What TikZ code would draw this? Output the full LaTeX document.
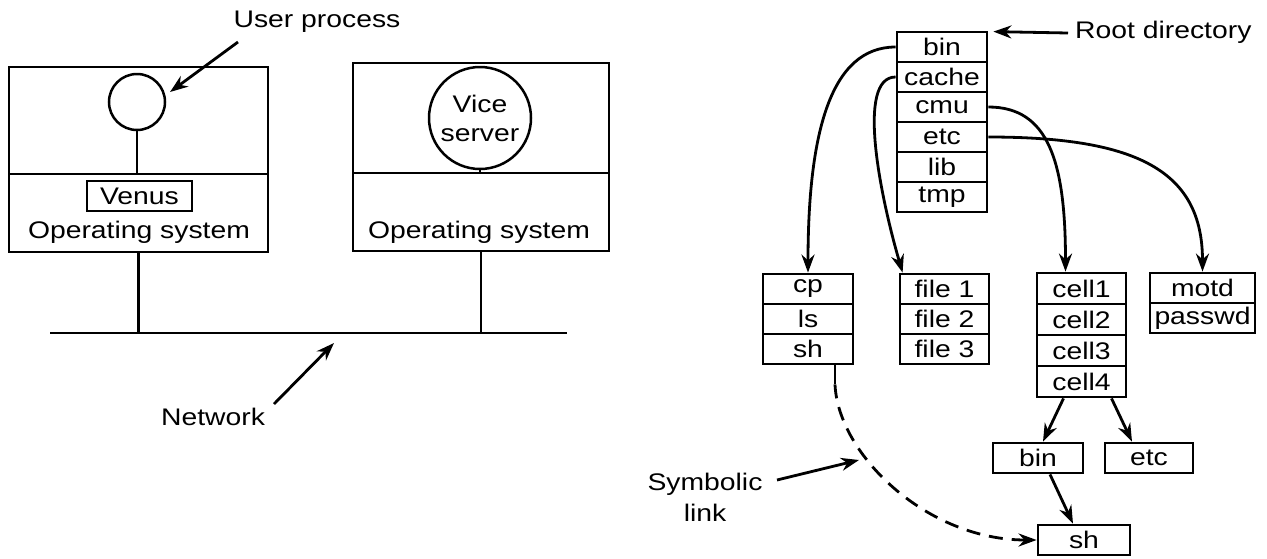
\documentclass[tikz,border=0pt]{standalone}
\usepackage{fontspec}
\setmainfont{Liberation Sans}[FakeStretch=1.18]
\usetikzlibrary{arrows.meta,calc}
\begin{document}
\begin{tikzpicture}[x=1pt,y=-1pt,
  every node/.style={font=\fontsize{24}{29}\selectfont},
  lw/.style={line width=2.8pt},
  box/.style={draw,line width=2.8pt,inner sep=0pt,minimum height=30pt},
  panel/.style={draw,line width=2.8pt,inner sep=0pt},
  proc/.style={draw,circle,line width=2.5pt,inner sep=0pt},
  arr/.style={line width=2.8pt,-{Stealth[length=18pt,width=13pt]}},
  dashline/.style={line width=2.8pt,dash pattern=on 14pt off 9pt,-{Stealth[length=18pt,width=13pt]}}]
\useasboundingbox (0,0) rectangle (1267,558);

% ---------- left: client machine ----------
\node[panel,minimum width=259pt,minimum height=107pt] (ltop) at (138.5,120.5) {};
\node[panel,minimum width=259pt,minimum height=78pt] (lbot) at (138.5,213) {};
\node[proc,minimum size=56pt] (ucirc) at (137,102) {};
\draw[lw] (ucirc.south) -- (ucirc.south |- ltop.south);
\node[box,minimum width=105pt,line width=2.5pt] (venus) at (139.5,196) {Venus};
\node (los) at (139,232) {Operating system};

% ---------- right: server machine ----------
\node[panel,minimum width=256pt,minimum height=110pt] (rtop) at (481,118) {};
\node[panel,minimum width=256pt,minimum height=78pt] (rbot) at (481,212) {};
\node[proc,minimum size=102pt,align=center] (vice) at (480,118) {Vice\\server};
\draw[lw] (vice.south) -- (vice.south |- rtop.south);
\node (ros) at (479,232) {Operating system};

% ---------- network ----------
\coordinate (netL) at (50,333);
\coordinate (netR) at (567,333);
\draw[lw] (netL) -- (netR);
\draw[lw] (lbot.south) -- (lbot.south |- netL);
\draw[lw] (rbot.south) -- (rbot.south |- netL);

% ---------- labels on the left ----------
\node (uplbl) at (317,22) {User process};
\coordinate (upA) at (238,42);
\coordinate (upB) at (170,92);
\draw[arr] (upA) -- (upB);

\node (netlbl) at (213,417) {Network};
\coordinate (netA) at (274,404);
\coordinate (netB) at (334,343);
\draw[arr] (netA) -- (netB);

% ---------- root directory ----------
\node[box,minimum width=90pt] (rbin)   at (942,47)  {bin};
\node[box,minimum width=90pt] (rcache) at (942,77)  {cache};
\node[box,minimum width=90pt] (rcmu)   at (942,107) {cmu};
\node[box,minimum width=90pt] (retc)   at (942,137) {etc};
\node[box,minimum width=90pt] (rlib)   at (942,167) {lib};
\node[box,minimum width=90pt] (rtmp)   at (942,197) {tmp};

\node[anchor=west,inner sep=0pt] (rootlbl) at (1075,32) {Root directory};
\coordinate (rootA) at (1068,33);
\draw[arr] (rootA) -- ([xshift=5pt,yshift=-1pt]rbin.north east);

% ---------- sub directories ----------
\node[box,minimum width=90pt] (cp) at (808,289) {cp};
\node[box,minimum width=90pt] (ls) at (808,319) {ls};
\node[box,minimum width=90pt] (sh) at (808,349) {sh};

\node[box,minimum width=89pt] (f1) at (944.5,289) {file 1};
\node[box,minimum width=89pt] (f2) at (944.5,319) {file 2};
\node[box,minimum width=89pt] (f3) at (944.5,349) {file 3};

\node[box,minimum width=89pt,minimum height=31pt] (c1) at (1081.5,288.5) {cell1};
\node[box,minimum width=89pt,minimum height=31pt] (c2) at (1081.5,319.5) {cell2};
\node[box,minimum width=89pt,minimum height=31pt] (c3) at (1081.5,350.5) {cell3};
\node[box,minimum width=89pt,minimum height=31pt] (c4) at (1081.5,381.5) {cell4};

\node[box,minimum width=105pt] (motd)   at (1202.5,288) {motd};
\node[box,minimum width=105pt] (passwd) at (1202.5,318) {passwd};

\node[box,minimum width=90pt] (b2) at (1038,458) {bin};
\node[box,minimum width=88pt] (e2) at (1149,458) {etc};
\node[box,minimum width=92pt] (s2) at (1084,540) {sh};

% ---------- curved links ----------
\draw[arr] (rbin.west) .. controls +(-65,0) and +(0,-140) .. (cp.north);
\draw[arr] (rcache.west) .. controls +(-40,0) and +(-22,-75) .. ([xshift=4pt]f1.north west);
\draw[arr] (rcmu.east) .. controls +(60,0) and +(0,-110) .. ([xshift=-16pt]c1.north);
\draw[arr] (retc.east) .. controls +(150,0) and +(0,-100) .. (motd.north);

\draw[arr] ([xshift=-18pt]c4.south) -- ([xshift=5pt]b2.north);
\draw[arr] ([xshift=30pt]c4.south) -- ([xshift=-17pt]e2.north);
\draw[arr] ([xshift=12pt]b2.south) -- ([xshift=-11pt]s2.north);

% ---------- symbolic link ----------
\draw[lw] ([xshift=27pt]sh.south) -- ++(0,19) coordinate (dstart);
\draw[dashline] (dstart) .. controls +(3,70) and +(-110,0) .. (s2.west);

\node[align=center,font=\fontsize{24}{31}\selectfont] (symlbl) at (705,497) {Symbolic\\link};
\coordinate (symA) at (777,480);
\coordinate (symB) at (859,460);
\draw[arr] (symA) -- (symB);
\end{tikzpicture}
\end{document}
